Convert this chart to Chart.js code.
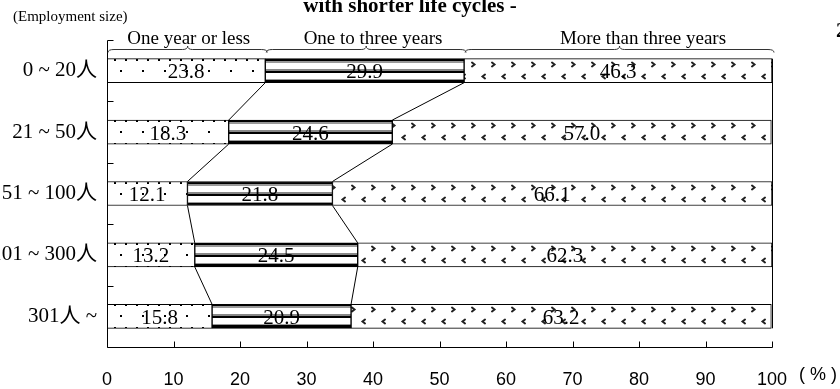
<!DOCTYPE html>
<html>
<head>
<meta charset="utf-8">
<script src="https://cdn.jsdelivr.net/npm/chart.js@4.4.0/dist/chart.umd.min.js"></script>
<style>
  html, body { margin: 0; padding: 0; background: #fff; }
  canvas { display: block; }
</style>
</head>
<body>
<canvas id="chart" width="840" height="389"></canvas>
<script>
// employment size groups, top to bottom
const sizeLabels = ['0 ~ 20人', '21 ~ 50人', '51 ~ 100人', '101 ~ 300人', '301人 ~'];
const seriesNames = ['One year or less', 'One to three years', 'More than three years'];

// share of products by life cycle length (%)
const oneYearOrLess = [23.8, 18.3, 12.1, 13.2, 15.8];
const oneToThreeYears = [29.9, 24.6, 21.8, 24.5, 20.9];
const moreThanThreeYears = [46.3, 57.0, 66.1, 62.3, 63.2];

// where the brace captions sit on the value axis
const captionAt = [12.3, 40, 80.6];

const SERIF = "'Liberation Serif', 'Noto Sans CJK JP', serif";
const SANS = "'Liberation Sans', Arial, sans-serif";
const BAR = 24;

function makeTile(w, h, paint) {
  const c = document.createElement('canvas');
  c.width = w;
  c.height = h;
  const g = c.getContext('2d');
  g.fillStyle = '#fff';
  g.fillRect(0, 0, w, h);
  paint(g);
  return c;
}

// sparse dots
const dotTile = makeTile(22, 23, g => {
  g.fillStyle = '#000';
  [[4, 0], [15, 0], [10, 11]].forEach(([x, y]) => g.fillRect(x, y, 2, 2));
});

// horizontal black / grey rules
const stripeTile = makeTile(4, 24, g => {
  const rows = [
    [0, 2, '#000'], [2, 2, '#999'], [10, 2, '#888'], [12, 2, '#000'],
    [20, 1, '#999'], [21, 3, '#000'],
  ];
  rows.forEach(([y, h, c]) => { g.fillStyle = c; g.fillRect(0, y, 4, h); });
});

// little chevrons
const chevronTile = makeTile(20, 24, g => {
  g.strokeStyle = '#222';
  g.lineWidth = 2;
  g.lineCap = 'round';
  g.beginPath();
  g.moveTo(12, 3.5); g.lineTo(14.5, 5.5); g.lineTo(12, 7.5);
  g.moveTo(5, 15.5); g.lineTo(2.5, 17.5); g.lineTo(5, 19.5);
  g.stroke();
});

function barFill(tile) {
  return ctx => {
    const { chart, dataIndex } = ctx;
    const y = chart.scales.y;
    if (!y) return '#fff';
    const pat = chart.ctx.createPattern(tile, 'repeat');
    const top = Math.round(y.getPixelForValue(dataIndex) - BAR / 2);
    pat.setTransform(new DOMMatrix([1, 0, 0, 1, 0, top]));
    return pat;
  };
}

function brace(g, x1, x2, y) {
  const xm = (x1 + x2) / 2;
  g.beginPath();
  g.moveTo(x1, y + 3);
  g.quadraticCurveTo(x1, y, x1 + 6, y);
  g.lineTo(xm - 5, y);
  g.quadraticCurveTo(xm, y, xm, y - 3.5);
  g.quadraticCurveTo(xm, y, xm + 5, y);
  g.lineTo(x2 - 6, y);
  g.quadraticCurveTo(x2, y, x2, y + 3);
  g.stroke();
}

const decorations = {
  id: 'decorations',
  afterDatasetsDraw(chart) {
    const g = chart.ctx;
    const a = chart.chartArea;
    const { x, y } = chart.scales;
    const metas = [0, 1, 2].map(i => chart.getDatasetMeta(i));
    const rows = sizeLabels.length;

    g.save();
    g.strokeStyle = '#000';
    g.lineWidth = 1;

    // axes
    const left = Math.round(a.left) + 0.5;
    const bottom = Math.round(a.bottom) + 0.5;
    g.beginPath();
    g.moveTo(left, Math.round(a.top) + 0.5);
    g.lineTo(left, bottom);
    g.lineTo(Math.round(a.right) + 0.5, bottom);
    // value ticks point up into the plot
    for (let v = 0; v <= 100; v += 10) {
      const px = Math.round(x.getPixelForValue(v)) + 0.5;
      g.moveTo(px, bottom);
      g.lineTo(px, bottom - 6);
    }
    // category boundary ticks
    for (let i = 0; i < rows; i++) {
      const py = Math.round(y.getPixelForValue(i - 0.5)) + 0.5;
      g.moveTo(left, py);
      g.lineTo(left + 6, py);
    }
    g.stroke();

    // right edge at 100%
    const first = metas[2].data[0].getProps(['y', 'height'], true);
    const last = metas[2].data[rows - 1].getProps(['y', 'height'], true);
    const rx = Math.round(x.getPixelForValue(100)) + 0.5;
    g.beginPath();
    g.moveTo(rx, first.y - first.height / 2);
    g.lineTo(rx, last.y + last.height / 2);
    g.stroke();

    // series lines joining segment boundaries of neighbouring bars
    g.beginPath();
    for (let s = 0; s < 2; s++) {
      for (let i = 0; i < rows - 1; i++) {
        const p = metas[s].data[i].getProps(['x', 'y', 'height'], true);
        const q = metas[s].data[i + 1].getProps(['x', 'y', 'height'], true);
        g.moveTo(p.x, p.y + p.height / 2);
        g.lineTo(q.x, q.y - q.height / 2);
      }
    }
    g.stroke();

    // braces over the top bar
    g.strokeStyle = '#333';
    const top0 = metas[0].data[0].getProps(['y', 'height'], true);
    const by = Math.round(top0.y - top0.height / 2) - 9.5;
    metas.forEach(m => {
      const el = m.data[0].getProps(['x', 'base'], true);
      brace(g, Math.min(el.x, el.base) + 1, Math.max(el.x, el.base) + 2, by);
    });

    g.fillStyle = '#000';
    g.textAlign = 'center';
    g.textBaseline = 'alphabetic';
    g.font = '19px ' + SERIF;
    seriesNames.forEach((n, i) => g.fillText(n, x.getPixelForValue(captionAt[i]), by - 6));

    // values inside the segments
    g.font = '21px ' + SERIF;
    metas.forEach(m => {
      m.data.forEach((el, i) => {
        const p = el.getProps(['x', 'base', 'y'], true);
        const v = chart.data.datasets[m.index].data[i];
        g.fillText(v.toFixed(1), (p.x + p.base) / 2, p.y + 7.5);
      });
    });

    // surrounding page text
    g.textAlign = 'left';
    g.font = '15px ' + SERIF;
    g.fillText('(Employment size)', 13, 21);
    g.font = 'bold 21px ' + SERIF;
    g.textAlign = 'center';
    g.fillText('with shorter life cycles -', 410, 12);
    g.textAlign = 'left';
    g.fillText('2', 836, 37);
    g.font = '18px ' + SANS;
    g.fillText('( % )', 799, 380);
    g.restore();
  }
};

Chart.defaults.font.family = SERIF;
Chart.defaults.color = '#000';

new Chart(document.getElementById('chart'), {
  type: 'bar',
  data: {
    labels: sizeLabels,
    datasets: [
      { label: seriesNames[0], data: oneYearOrLess, backgroundColor: barFill(dotTile) },
      { label: seriesNames[1], data: oneToThreeYears, backgroundColor: barFill(stripeTile) },
      { label: seriesNames[2], data: moreThanThreeYears, backgroundColor: barFill(chevronTile) },
    ],
  },
  options: {
    indexAxis: 'y',
    responsive: false,
    animation: false,
    events: [],
    layout: { padding: { top: 40, right: 68, left: 0, bottom: 0 } },
    datasets: {
      bar: {
        barThickness: BAR,
        borderWidth: 1,
        borderColor: '#000',
        borderSkipped: false,
      },
    },
    plugins: {
      legend: { display: false },
      tooltip: { enabled: false },
    },
    scales: {
      x: {
        stacked: true,
        min: 0,
        max: 100,
        grid: { display: false, drawTicks: false },
        border: { display: false },
        afterFit: s => { s.height = 42; },
        ticks: {
          stepSize: 10,
          padding: 22,
          maxRotation: 0,
          font: { family: SANS, size: 18 },
          color: '#000',
        },
      },
      y: {
        stacked: true,
        grid: { display: false, drawTicks: false },
        border: { display: false },
        afterFit: s => { s.width = 107; },
        ticks: {
          padding: 10,
          font: { family: SERIF, size: 21 },
          color: '#000',
        },
      },
    },
  },
  plugins: [decorations],
});
</script>
</body>
</html>
